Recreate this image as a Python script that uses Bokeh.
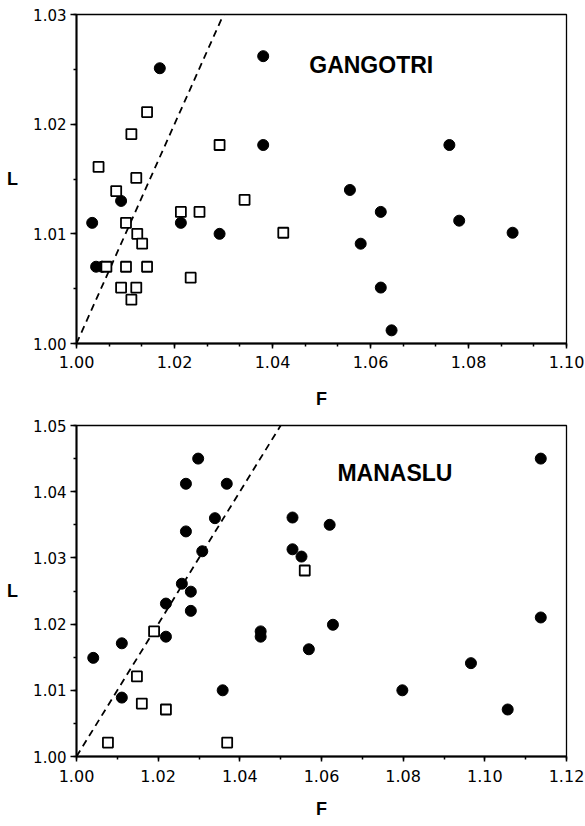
import numpy as np
from bokeh.plotting import figure
from bokeh.layouts import column
from bokeh.models import Range1d, FixedTicker, PrintfTickFormatter, Slope, Label
from bokeh.embed import file_html
from bokeh.resources import INLINE

# Gangotri: flattening F vs lineation L
gangotri_solid_F = [1.0170, 1.0381, 1.0381, 1.0761, 1.0558, 1.0032, 1.0091, 1.0040,
                    1.0052, 1.0213, 1.0292, 1.0621, 1.0781, 1.0890, 1.0580, 1.0621, 1.0643]
gangotri_solid_L = [1.0251, 1.0262, 1.0181, 1.0181, 1.0140, 1.0110, 1.0130, 1.0070,
                    1.0070, 1.0110, 1.0100, 1.0120, 1.0112, 1.0101, 1.0091, 1.0051, 1.0012]
gangotri_open_F = [1.0144, 1.0112, 1.0045, 1.0122, 1.0292, 1.0081, 1.0101, 1.0124, 1.0134, 1.0061,
                   1.0101, 1.0144, 1.0091, 1.0122, 1.0112, 1.0213, 1.0251, 1.0343, 1.0422, 1.0233]
gangotri_open_L = [1.0211, 1.0191, 1.0161, 1.0151, 1.0181, 1.0139, 1.0110, 1.0100, 1.0091, 1.0070,
                   1.0070, 1.0070, 1.0051, 1.0051, 1.0040, 1.0120, 1.0120, 1.0131, 1.0101, 1.0060]

# Manaslu
manaslu_solid_F = [1.0298, 1.0268, 1.0368, 1.0339, 1.0268, 1.0308, 1.0258, 1.0280, 1.0219, 1.0280,
                   1.0219, 1.0111, 1.0041, 1.0111, 1.0358, 1.0451, 1.0451, 1.0529, 1.0620, 1.0529,
                   1.0551, 1.1137, 1.0569, 1.0628, 1.0798, 1.0966, 1.1056, 1.1137]
manaslu_solid_L = [1.0450, 1.0412, 1.0412, 1.0360, 1.0340, 1.0310, 1.0261, 1.0249, 1.0231, 1.0220,
                   1.0181, 1.0171, 1.0149, 1.0089, 1.0100, 1.0189, 1.0181, 1.0361, 1.0350, 1.0313,
                   1.0302, 1.0450, 1.0162, 1.0199, 1.0100, 1.0141, 1.0071, 1.0210]
manaslu_open_F = [1.0559, 1.0190, 1.0148, 1.0160, 1.0219, 1.0077, 1.0369]
manaslu_open_L = [1.0281, 1.0189, 1.0121, 1.0080, 1.0071, 1.0021, 1.0021]

# Axis ticks
gangotri_F_ticks = [1.00, 1.02, 1.04, 1.06, 1.08, 1.10]
gangotri_L_ticks = [1.00, 1.01, 1.02, 1.03]
manaslu_F_ticks = [1.00, 1.02, 1.04, 1.06, 1.08, 1.10, 1.12]
manaslu_L_ticks = [1.00, 1.01, 1.02, 1.03, 1.04, 1.05]

TICK_FONT = "DejaVu Sans"
LABEL_FONT = "Liberation Sans"


def make_panel(name, sF, sL, oF, oL, fticks, lticks, f_minor_div, height,
               border_left, border_right, border_top, border_bottom,
               name_x, name_y, x_std, xlab_std):
    p = figure(width=585, height=height, output_backend="svg", toolbar_location=None,
               x_range=Range1d(fticks[0], fticks[-1]), y_range=Range1d(lticks[0], lticks[-1]),
               min_border_left=border_left, min_border_right=border_right,
               min_border_top=border_top, min_border_bottom=border_bottom)
    p.background_fill_color = "white"
    p.border_fill_color = "white"
    p.grid.visible = False
    p.outline_line_color = "black"
    p.outline_line_width = 1.3

    fminor = np.linspace(fticks[0], fticks[-1], (len(fticks) - 1) * f_minor_div + 1).tolist()
    lminor = np.linspace(lticks[0], lticks[-1], (len(lticks) - 1) * 2 + 1).tolist()
    p.xaxis.ticker = FixedTicker(ticks=fticks, minor_ticks=fminor)
    p.yaxis.ticker = FixedTicker(ticks=lticks, minor_ticks=lminor)
    p.xaxis.formatter = PrintfTickFormatter(format="%.2f")
    p.yaxis.formatter = PrintfTickFormatter(format="%.2f")

    for ax in (p.xaxis[0], p.yaxis[0]):
        ax.axis_line_width = 2
        ax.axis_line_color = "black"
        ax.major_tick_line_width = 1.5
        ax.minor_tick_line_width = 1.5
        ax.major_tick_in = 0
        ax.minor_tick_in = 0
        ax.major_label_text_font = TICK_FONT
        ax.major_label_text_color = "black"
        ax.axis_label_text_font = LABEL_FONT
        ax.axis_label_text_font_style = "bold"
        ax.axis_label_text_font_size = "18px"
        ax.axis_label_text_color = "black"

    p.xaxis.major_tick_out = 5
    p.xaxis.minor_tick_out = 3
    p.xaxis.major_label_standoff = x_std
    p.xaxis.major_label_text_font_size = "16px"
    p.xaxis.axis_label = "F"
    p.xaxis.axis_label_standoff = xlab_std

    p.yaxis.major_tick_out = 6
    p.yaxis.minor_tick_out = 3
    p.yaxis.major_label_standoff = 4
    p.yaxis.major_label_text_font_size = "15px"
    p.yaxis.axis_label = "L"
    p.yaxis.axis_label_orientation = "horizontal"
    p.yaxis.axis_label_standoff = 12

    # L = F reference line
    p.add_layout(Slope(gradient=1, y_intercept=0, line_color="black", line_width=1.8,
                       line_dash="7 5", level="underlay"))

    p.scatter(sF, sL, marker="circle", size=11, fill_color="black", line_color="black")
    p.scatter(oF, oL, marker="square", size=10, fill_color="white", line_color="black",
              line_width=1.8)

    p.add_layout(Label(x=name_x, y=name_y, text=name, text_font=LABEL_FONT,
                       text_font_style="bold", text_font_size="23px", text_color="black",
                       text_baseline="alphabetic", text_align="left"))
    return p


top = make_panel("GANGOTRI", gangotri_solid_F, gangotri_solid_L, gangotri_open_F, gangotri_open_L,
                 gangotri_F_ticks, gangotri_L_ticks, 3, 415, 73, 19, 14, 72,
                 1.0475, 1.02543, 7, 18)
bottom = make_panel("MANASLU", manaslu_solid_F, manaslu_solid_L, manaslu_open_F, manaslu_open_L,
                    manaslu_F_ticks, manaslu_L_ticks, 2, 411, 76, 17, 10, 70,
                    1.0639, 1.04275, 8, 14)

page = column(top, bottom, spacing=0)
open("out.html", "w").write(file_html(page, INLINE))
